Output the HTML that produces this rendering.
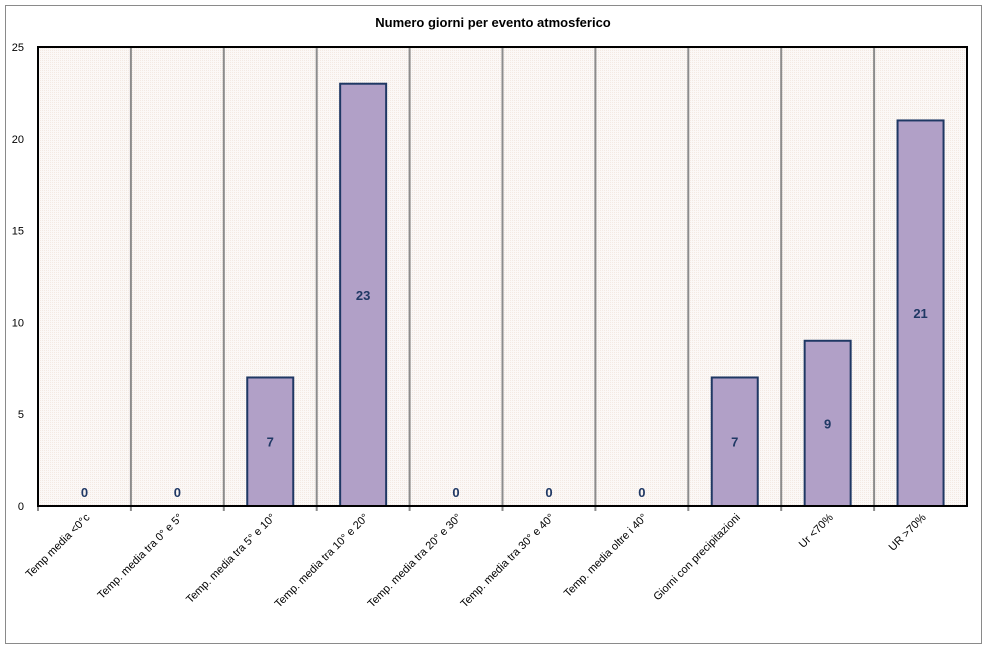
<!DOCTYPE html>
<html><head><meta charset="utf-8"><style>
body{margin:0;background:#fff;}
svg text{font-family:"Liberation Sans",Verdana,sans-serif;}
</style></head><body>
<svg id="chart" width="986" height="647" xmlns="http://www.w3.org/2000/svg">
<defs><pattern id="pat" width="2" height="2" patternUnits="userSpaceOnUse"><rect width="2" height="2" fill="#fbf8f6"/><rect width="1" height="1" fill="#f3e9e2"/></pattern></defs>
<rect x="5.5" y="5.5" width="976" height="638" fill="#fff" stroke="#8a8a8a"/>
<text x="493" y="27" text-anchor="middle" font-size="13" font-weight="bold">Numero giorni per evento atmosferico</text>
<rect x="38" y="47" width="929" height="459" fill="url(#pat)"/>
<g id="grid"></g><g id="bars"></g><g id="yaxis"></g><g id="xaxis"></g>
<rect x="38" y="47" width="929" height="459" fill="none" stroke="#000" stroke-width="2"/>
</svg>
<script>
const categories=["Temp media <0°c","Temp. media tra 0° e 5°","Temp. media tra 5° e 10°","Temp. media tra 10° e 20°","Temp. media tra 20° e 30°","Temp. media tra 30° e 40°","Temp. media oltre i 40°","Giorni con precipitazioni","Ur <70%","UR >70%"];
const values=[0,0,7,23,0,0,0,7,9,21];
const yTicks=[0,5,10,15,20,25];
const NS="http://www.w3.org/2000/svg";
const L=38,T=47,W=929,H=459,YMAX=25;
const bw=W/categories.length;
const y=v=>T+H-v/YMAX*H;
const x=i=>L+i*bw;
function mk(tag,at,parent){const e=document.createElementNS(NS,tag);for(const k in at)e.setAttribute(k,at[k]);document.getElementById(parent).appendChild(e);return e;}
for(let i=1;i<categories.length;i++){
 const l=mk('line',{x1:x(i),x2:x(i),y1:T,y2:T+H,stroke:'#8c8c8c','stroke-width':2},'grid');
 
 
}
values.forEach((v,i)=>{
 const cx=x(i)+bw/2;
 if(v>0){
  const r=mk('rect',{x:cx-23,y:y(v),width:46,height:y(0)-y(v),fill:'#b1a0c7',stroke:'#1f3864','stroke-width':2},'bars');
  
  
 }
 const ty=v>0?(y(v)+y(0))/2+5:497;
 const t=mk('text',{x:cx,y:ty,'text-anchor':'middle','font-size':13,'font-weight':'bold',fill:'#1f3864'},'bars');
 t.textContent=v;
 
 
 const tk=mk('line',{x1:x(i),x2:x(i),y1:T+H,y2:T+H+5,stroke:'#8c8c8c','stroke-width':2},'xaxis');
 
 
 const lb=mk('text',{x:cx+6,y:T+H+12,'text-anchor':'end','font-size':11,transform:`rotate(-45 ${cx+6} ${T+H+12})`},'xaxis');
 lb.textContent=categories[i];
 
 
});
const ax=mk('line',{x1:L,x2:L+W,y1:T+H,y2:T+H,stroke:'#8c8c8c','stroke-width':2},'xaxis');


yTicks.forEach(v=>{
 const t=mk('text',{x:24,y:y(v)+4,'text-anchor':'end','font-size':11},'yaxis');
 t.textContent=v;
 
 
});
</script>
</body></html>
